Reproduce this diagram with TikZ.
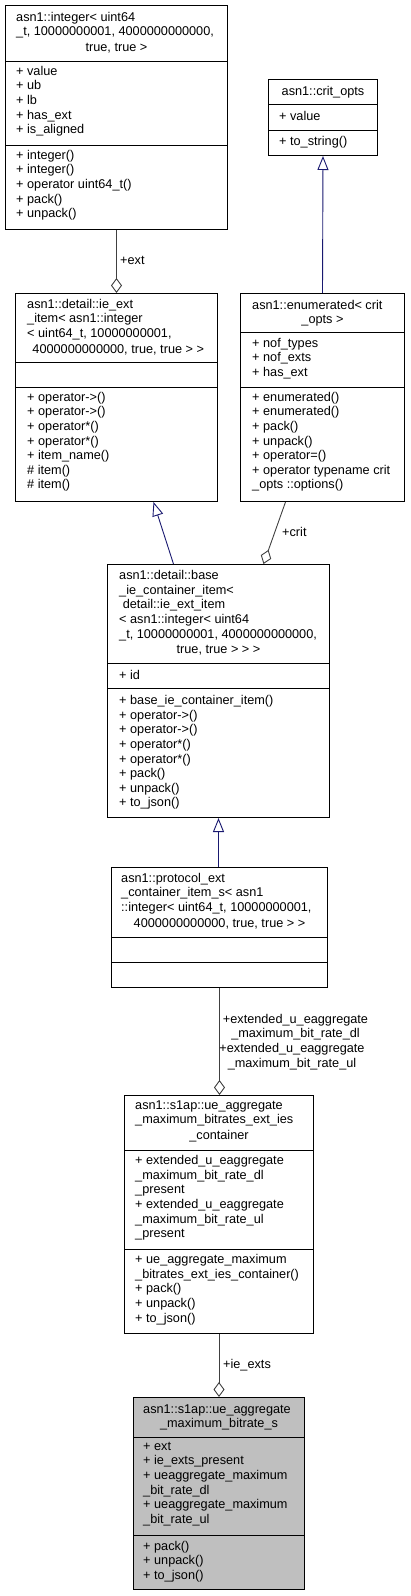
\documentclass[tikz,border=0pt]{standalone}
\usepackage{fontspec}
\setmainfont{Liberation Sans}
\usetikzlibrary{arrows.meta}
\definecolor{edgegray}{HTML}{404040}
\definecolor{inhblue}{HTML}{191970}
\definecolor{mainfill}{HTML}{BFBFBF}
\newcommand\dxfont{\fontsize{12.7}{14.6}\selectfont}
\tikzset{
  cls/.style={draw=black, line width=1pt, anchor=north west, inner sep=0pt},
  sepl/.style={draw=black, line width=1pt},
  txt/.style={anchor=north west, inner sep=0pt, align=left, font=\dxfont, yshift=10.2pt, execute at begin node=\strut},
  ctr/.style={anchor=north, inner sep=0pt, align=center, font=\dxfont, yshift=10.2pt, execute at begin node=\strut},
  aggr/.style={draw=edgegray, line width=0.9pt, -{Diamond[open, length=15pt, width=11pt]}},
  inh/.style={draw=inhblue, line width=0.9pt, {Triangle[open, length=14pt, width=11pt]}-},
}
\begin{document}
\begin{tikzpicture}[x=1pt,y=-1pt]
\useasboundingbox (0,0) rectangle (410,1596);
% class boxes
\node[cls, minimum width=222pt, minimum height=224pt] (integer) at (5,5) {};
\node[cls, minimum width=109pt, minimum height=76pt] (critopts) at (268,79) {};
\node[cls, minimum width=202pt, minimum height=208pt] (ieext) at (15,293) {};
\node[cls, minimum width=164pt, minimum height=208pt] (enum) at (240,293) {};
\node[cls, minimum width=222pt, minimum height=253pt] (base) at (107,564) {};
\node[cls, minimum width=216pt, minimum height=120pt] (protocol) at (111,867) {};
\node[cls, minimum width=189pt, minimum height=238pt] (ueext) at (124,1095) {};
\node[cls, fill=mainfill, minimum width=171pt, minimum height=192pt] (final) at (133,1397) {};
% compartment lines
\foreach \xa/\xb/\ya/\yb in {5/227/61/145, 268/377/104/130, 15/217/362/387, 240/404/332/387,
  107/329/663/688, 111/327/937/962, 124/313/1150/1249, 133/304/1437/1535}
{
  \draw[sepl] (\xa,\ya) -- (\xb,\ya);
  \draw[sepl] (\xa,\yb) -- (\xb,\yb);
}
% asn1::integer
\node[txt] (integer-t) at (16,22) {asn1::integer< uint64\\\_t, 10000000001, 4000000000000,};
\node[ctr] (integer-c) at (integer.north |- 0,51.2) {true, true >};
\node[txt] (integer-a) at (16,76) {+ value\\+ ub\\+ lb\\+ has\_ext\\+ is\_aligned};
\node[txt] (integer-m) at (16,160) {+ integer()\\+ integer()\\+ operator uint64\_t()\\+ pack()\\+ unpack()};
% asn1::crit_opts
\node[ctr] (critopts-t) at (critopts.north |- 0,95) {asn1::crit\_opts};
\node[txt] (critopts-a) at (279,120.5) {+ value};
\node[txt] (critopts-m) at (279,145.5) {+ to\_string()};
% ie_ext_item
\node[txt] (ieext-t) at (27,309) {asn1::detail::ie\_ext\\\_item< asn1::integer\\< uint64\_t, 10000000001,};
\node[ctr] (ieext-c) at (ieext.north |- 0,352.8) {\hspace*{3.5pt}4000000000000, true, true > >};
\node[txt] (ieext-m) at (27,402) {+ operator->()\\+ operator->()\\+ operator*()\\+ operator*()\\+ item\_name()\\\# item()\\\# item()};
% enumerated
\node[txt] (enum-t) at (252,309) {asn1::enumerated< crit};
\node[ctr] (enum-c) at (enum.north |- 0,323.6) {\_opts >};
\node[txt] (enum-a) at (252,348) {+ nof\_types\\+ nof\_exts\\+ has\_ext};
\node[txt] (enum-m) at (252,402) {+ enumerated()\\+ enumerated()\\+ pack()\\+ unpack()\\+ operator=()\\+ operator typename crit\\\_opts ::options()};
% base_ie_container_item
\node[txt] (base-t) at (119,580.5) {asn1::detail::base\\\_ie\_container\_item<\\\hspace*{3.6pt}detail::ie\_ext\_item\\< asn1::integer< uint64\\\_t, 10000000001, 4000000000000,};
\node[ctr] (base-c) at (base.north |- 0,653.5) {true, true > > >};
\node[txt] (base-a) at (119,679) {+ id};
\node[txt] (base-m) at (119,705.5) {+ base\_ie\_container\_item()\\+ operator->()\\+ operator->()\\+ operator*()\\+ operator*()\\+ pack()\\+ unpack()\\+ to\_json()};
% protocol_ext_container_item_s
\node[txt] (protocol-t) at (121,883) {asn1::protocol\_ext\\\_container\_item\_s< asn1\\::integer< uint64\_t, 10000000001,};
\node[ctr] (protocol-c) at (protocol.north |- 0,926.8) {4000000000000, true, true > >};
% ue_aggregate_maximum_bitrates_ext_ies_container
\node[txt] (ueext-t) at (135,1110.5) {asn1::s1ap::ue\_aggregate\\\_maximum\_bitrates\_ext\_ies};
\node[ctr] (ueext-c) at (ueext.north |- 0,1139.7) {\_container};
\node[txt] (ueext-a) at (135,1165.5) {+ extended\_u\_eaggregate\\\_maximum\_bit\_rate\_dl\\\_present\\+ extended\_u\_eaggregate\\\_maximum\_bit\_rate\_ul\\\_present};
\node[txt] (ueext-m) at (135,1264.5) {+ ue\_aggregate\_maximum\\\_bitrates\_ext\_ies\_container()\\+ pack()\\+ unpack()\\+ to\_json()};
% ue_aggregate_maximum_bitrate_s
\node[txt] (final-t) at (143,1413) {asn1::s1ap::ue\_aggregate};
\node[ctr] (final-c) at (final.north |- 0,1427.6) {\_maximum\_bitrate\_s};
\node[txt] (final-a) at (143,1452) {+ ext\\+ ie\_exts\_present\\+ ueaggregate\_maximum\\\_bit\_rate\_dl\\+ ueaggregate\_maximum\\\_bit\_rate\_ul};
\node[txt] (final-m) at (143,1551) {+ pack()\\+ unpack()\\+ to\_json()};
% relations
\draw[aggr] (integer.south) -- (ieext.north);
\draw[inh] (critopts.south) -- (enum.north);
\draw[inh] ([xshift=37pt]ieext.south) -- ([xshift=-45pt]base.north);
\draw[aggr] ([xshift=-37pt]enum.south) -- ([xshift=45pt]base.north);
\draw[inh] (base.south) -- (base.south |- protocol.north);
\draw[aggr] (protocol.south) -- (protocol.south |- ueext.north);
\draw[aggr] (ueext.south) -- (final.north);
% edge labels
\node[txt] (lext) at (120,264) {+ext};
\node[txt] (lcrit) at (282,536) {+crit};
\node[ctr] (ldl) at (295.5,1024) {+extended\_u\_eaggregate\\\_maximum\_bit\_rate\_dl};
\node[ctr] (lul) at (292,1053.2) {+extended\_u\_eaggregate\\\_maximum\_bit\_rate\_ul};
\node[txt] (lies) at (223,1368) {+ie\_exts};
\end{tikzpicture}
\end{document}
